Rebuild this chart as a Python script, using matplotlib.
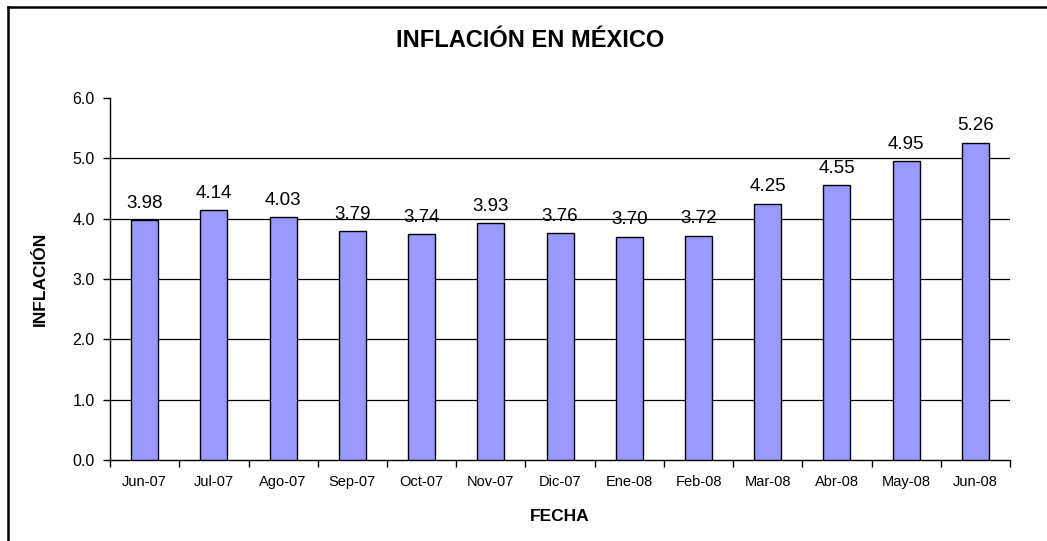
import matplotlib.pyplot as plt
import numpy as np
from matplotlib.lines import Line2D

plt.rcParams['font.family'] = ['Liberation Sans', 'DejaVu Sans']

fechas = ['Jun-07', 'Jul-07', 'Ago-07', 'Sep-07', 'Oct-07', 'Nov-07', 'Dic-07',
          'Ene-08', 'Feb-08', 'Mar-08', 'Abr-08', 'May-08', 'Jun-08']
inflacion = [3.98, 4.14, 4.03, 3.79, 3.74, 3.93, 3.76, 3.70, 3.72, 4.25, 4.55, 4.95, 5.26]
y_ticks = [0, 1, 2, 3, 4, 5, 6]

fig = plt.figure(figsize=(10.47, 5.41), dpi=100)
ax = fig.add_axes([0.1051, 0.1497, 0.8596, 0.6692])

x = np.arange(len(fechas))
ax.bar(x, inflacion, width=0.39, color='#9999FF', edgecolor='black', linewidth=1, zorder=3)
for xi, v in zip(x, inflacion):
    ax.annotate(f'{v:.2f}', (xi, v), xytext=(0, 6), textcoords='offset points',
                ha='center', va='bottom', fontsize=13.5)

ax.set_xlim(-0.5, len(fechas) - 0.5)
ax.set_ylim(0, 6)
ax.set_yticks(y_ticks)
ax.set_yticklabels([f'{t:.1f}' for t in y_ticks], fontsize=11.5)
ax.set_xticks(x)
ax.set_xticklabels(fechas, fontsize=10.5)
ax.set_xticks(np.arange(len(fechas) + 1) - 0.5, minor=True)
ax.tick_params(axis='x', which='major', length=0, pad=11)
ax.tick_params(axis='x', which='minor', length=5, direction='out', width=1)
ax.tick_params(axis='y', length=5, width=1, pad=6)

for g in y_ticks[1:-1]:
    ax.axhline(g, color='black', linewidth=0.9, zorder=1)

for s in ['top', 'right']:
    ax.spines[s].set_visible(False)
ax.spines['left'].set_linewidth(1)
ax.spines['bottom'].set_linewidth(1)

ax.set_xlabel('FECHA', fontsize=12.5, fontweight='bold', labelpad=14)
ax.set_ylabel('INFLACIÓN', fontsize=12.5, fontweight='bold', labelpad=18)
fig.text(0.506, 0.925, 'INFLACIÓN EN MÉXICO', ha='center', va='center',
         fontsize=17, fontweight='bold')

# marco exterior
W, H = 1047, 541
fig.add_artist(Line2D([8 / W, 8 / W], [0, 1 - 7 / H], transform=fig.transFigure,
                      color='black', linewidth=1.8))
fig.add_artist(Line2D([8 / W, 1], [1 - 7 / H, 1 - 7 / H], transform=fig.transFigure,
                      color='black', linewidth=1.8))

fig.savefig('out.png', dpi=100)
